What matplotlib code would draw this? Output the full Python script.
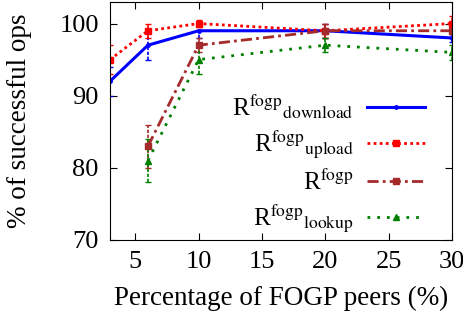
import matplotlib
matplotlib.use("Agg")
import matplotlib.pyplot as plt
from matplotlib.lines import Line2D

plt.rcParams['font.family'] = ['Liberation Serif', 'DejaVu Serif']
plt.rcParams['mathtext.fontset'] = 'stix'

# data
x_dl = [3, 6, 10, 20, 30]
dl = [92, 97, 99, 99, 98]
dl_err = [2, 2, 1, 1, 0.5]

x_up = [3, 6, 10, 20, 30]
up = [95, 99, 100, 99, 100]
up_err = [2, 1, 0.5, 1, 1]

x_all = [6, 10, 20, 30]
allr = [83, 97, 99, 99]
all_err = [3, 1, 1, 0.5]

x_lk = [6, 10, 20, 30]
lk = [81, 95, 97, 96]
lk_err = [3, 2, 1, 1]

labels = [r'R$^{\mathrm{fogp}}$$_{\mathrm{download}}$',
          r'R$^{\mathrm{fogp}}$$_{\mathrm{upload}}$',
          r'R$^{\mathrm{fogp}}$',
          r'R$^{\mathrm{fogp}}$$_{\mathrm{lookup}}$']

styles = [
    dict(color='blue', lw=2.2, ls='-', marker='o', ms=2.5),
    dict(color='red', lw=2, ls=(0, (1, 1.2)), marker='s', ms=4),
    dict(color='#a52a2a', lw=2, ls=(0, (4, 1.5, 1, 1.5)), marker='s', ms=4),
    dict(color='green', lw=2, ls=(0, (1, 2.5)), marker='^', ms=4),
]

fig = plt.figure(figsize=(4.64, 3.17), dpi=100)
ax = fig.add_axes([0.237, 0.243, 0.737, 0.751])

series = [(x_dl, dl, dl_err), (x_up, up, up_err), (x_all, allr, all_err), (x_lk, lk, lk_err)]
handles = []
for (xs, ys, es), st, lab in zip(series, styles, labels):
    c = ax.errorbar(xs, ys, yerr=es, capsize=2, elinewidth=1.2, **st)
    c[2][0].set_linestyle((0, (2, 1)))
    handles.append(Line2D([], [], **st))

ax.set_xlim(3, 30)
ax.set_ylim(70, 103)
ax.set_xticks([5, 10, 15, 20, 25, 30])
ax.set_yticks([70, 80, 90, 100])
ax.tick_params(direction='in', top=True, right=True, labelsize=19, length=5, pad=8)
ax.set_xlabel('Percentage of FOGP peers (%)', fontsize=19.5, labelpad=9)
ax.set_ylabel('% of successful ops', fontsize=19.5, labelpad=20)

ax.legend(handles, labels, loc='lower right', bbox_to_anchor=(0.921, 0.02), frameon=False,
          markerfirst=False, numpoints=1, fontsize=18, handlelength=2.3, labelspacing=0.32,
          handletextpad=0.55, borderpad=0, borderaxespad=0)

fig.savefig('out.png', dpi=100)
